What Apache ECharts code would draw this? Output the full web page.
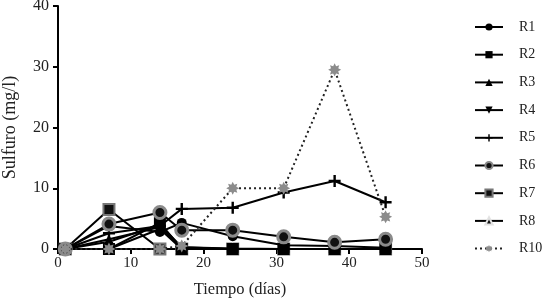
<!DOCTYPE html>
<html>
<head>
<meta charset="utf-8">
<script src="https://cdn.jsdelivr.net/npm/echarts@6/dist/echarts.min.js"></script>
<style>
  html, body { margin: 0; padding: 0; background: #fff; }
  #chart { width: 544px; height: 302px; }
</style>
</head>
<body>
<div id="chart"></div>
<script>
// días de muestreo
var days = [1, 7, 14, 17, 24, 31, 38, 45];

// sulfuro (mg/l) por reactor
var r1  = [0, 3.8, 2.8, 4.3, 2.1, 0.6, 0.5, 0.2];
var r2  = [0, 0, 4.3, 0, 0, 0, 0, 0];
var r3  = [0, 1.6, 3.6, 0.3, 0.1, 0, 0, 0];
var r4  = [0, 0, 3.3, 0, 0, 0, 0, 0];
var r5  = [0, 2.6, 3.8, 6.6, 6.8, 9.3, 11.2, 7.7];
var r6  = [0, 4.1, 6.0, 3.1, 3.1, 2.0, 1.1, 1.6];
var r7  = [0, 6.5, 0, 0, 0, 0, 0, 0];
var r8  = [0, 1.2, 4.0, 0.3, 0, 0, 0, 0];
var r10 = [0, 0, 0, 0.5, 10, 10, 29.5, 5.3];

var names = ['R1', 'R2', 'R3', 'R4', 'R5', 'R6', 'R7', 'R8', 'R10'];

var xTicks = [0, 10, 20, 30, 40, 50];
var yTicks = [0, 10, 20, 30, 40];

var serif = '"Liberation Serif", "DejaVu Serif", serif';

var plusPath = 'path://M4,0h2v4h4v2h-4v4h-2v-4h-4v-2h4z';
var starPath = 'path://M10,0L5.54,2.3L7.07,7.07L2.3,5.54L0,10L-2.3,5.54L-7.07,7.07L-5.54,2.3L-10,0L-5.54,-2.3L-7.07,-7.07L-2.3,-5.54L0,-10L2.3,-5.54L7.07,-7.07L5.54,-2.3Z';

function pairs(vals) {
    var out = [];
    for (var i = 0; i < days.length; i++) {
        out.push([days[i], vals[i]]);
    }
    return out;
}

function makeSeries(name, vals, symbol, size, item, line, rotate, z) {
    return {
        name: name,
        type: 'line',
        z: z || 2,
        data: pairs(vals),
        symbol: symbol,
        symbolSize: size,
        symbolRotate: rotate || 0,
        showAllSymbol: true,
        itemStyle: item,
        lineStyle: line || { color: '#000', width: 2 },
        emphasis: { disabled: true },
        animation: false
    };
}

var chart = echarts.init(document.getElementById('chart'));

var option = {
    backgroundColor: '#fff',
    grid: {
        left: 58,
        right: 122,
        top: 6,
        bottom: 53,
        outerBoundsMode: 'none'
    },
    legend: {
        orient: 'vertical',
        left: 469,
        top: 15,
        itemWidth: 28,
        itemHeight: 9,
        itemGap: 13.7,
        data: names,
        textStyle: {
            fontFamily: serif,
            fontSize: 14,
            color: '#222',
            padding: [0, 0, 0, 11]
        }
    },
    xAxis: {
        type: 'value',
        min: xTicks[0],
        max: xTicks[xTicks.length - 1],
        interval: 10,
        name: 'Tiempo (días)',
        nameLocation: 'middle',
        nameGap: 32,
        nameTextStyle: { fontFamily: serif, fontSize: 16.5, color: '#222' },
        axisLine: { onZero: false, lineStyle: { color: '#000', width: 2 } },
        axisTick: { show: true, length: 5, lineStyle: { color: '#000', width: 2 } },
        axisLabel: { fontFamily: serif, fontSize: 15, color: '#222', margin: 7 },
        splitLine: { show: false }
    },
    yAxis: {
        type: 'value',
        min: yTicks[0],
        max: yTicks[yTicks.length - 1],
        interval: 10,
        name: 'Sulfuro (mg/l)',
        nameLocation: 'middle',
        nameGap: 39,
        nameTextStyle: { fontFamily: serif, fontSize: 18, color: '#222' },
        axisLine: { show: true, lineStyle: { color: '#000', width: 2 } },
        axisTick: { show: true, length: 5, lineStyle: { color: '#000', width: 2 } },
        axisLabel: { fontFamily: serif, fontSize: 16, color: '#222', margin: 9 },
        splitLine: { show: false }
    },
    series: [
        makeSeries('R1', r1, 'circle', 10, { color: '#000' }),
        makeSeries('R2', r2, 'rect', 12, { color: '#000' }),
        makeSeries('R3', r3, 'triangle', 10, { color: '#000' }),
        makeSeries('R4', r4, 'triangle', 10, { color: '#000' }, null, 180),
        makeSeries('R5', r5, plusPath, 12, { color: '#000' }),
        makeSeries('R6', r6, 'circle', 12, { color: '#111', borderColor: '#8a8a8a', borderWidth: 3 }),
        makeSeries('R7', r7, 'rect', 11, { color: '#111', borderColor: '#777', borderWidth: 2 }, null, 0, 1),
        makeSeries('R8', r8, 'triangle', 8, { color: '#111', borderColor: '#e2e2e2', borderWidth: 3 }, null, 0, 1),
        makeSeries('R10', r10, starPath, 13, { color: '#8c8c8c' },
            { color: '#222', width: 2, type: [2, 3] }, 0, 3)
    ]
};

chart.setOption(option);
</script>
</body>
</html>
